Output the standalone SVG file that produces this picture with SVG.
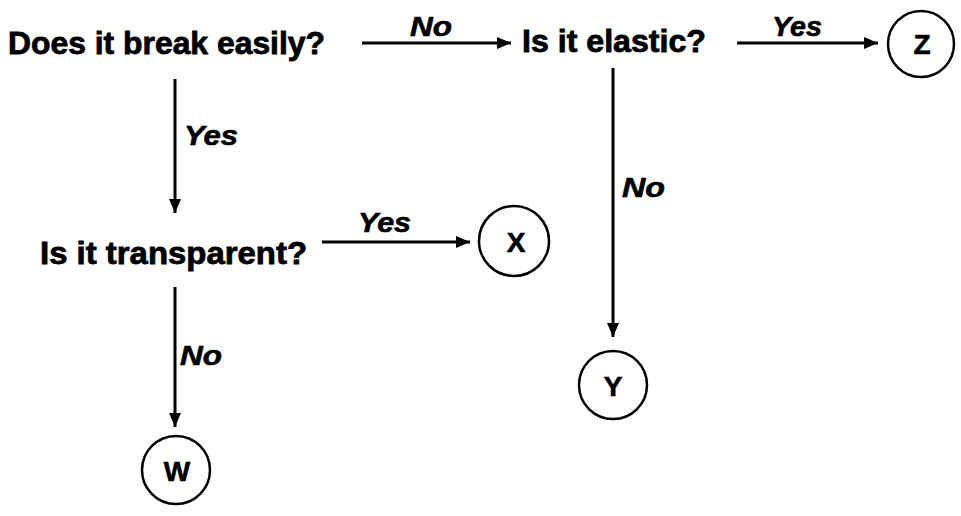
<svg xmlns="http://www.w3.org/2000/svg" width="961" height="516" viewBox="0 0 961 516">
<defs>
<style>
.q{font-family:"Liberation Sans",Arial,sans-serif;font-weight:bold;font-size:31px;fill:#000;stroke:#000;stroke-width:0.8}
.l{font-family:"Liberation Sans",Arial,sans-serif;font-weight:bold;font-style:italic;font-size:27px;fill:#000;stroke:#000;stroke-width:0.6}
.c{font-family:"Liberation Sans",Arial,sans-serif;font-weight:bold;font-size:28px;fill:#000;stroke:#000;stroke-width:0.6;text-anchor:middle}
.n{fill:none;stroke:#000;stroke-width:2.5}
.e{stroke:#000;stroke-width:3;fill:none;marker-end:url(#ah)}
</style>
<marker id="ah" viewBox="0 0 14 12" refX="14" refY="6" markerWidth="14" markerHeight="12" markerUnits="userSpaceOnUse" orient="auto">
<path d="M0,0 L14,6 L0,12 z" fill="#000"/>
</marker>
</defs>
<rect width="961" height="516" fill="#fff"/>
<g id="q1"><text class="q" x="8" y="54" textLength="317" lengthAdjust="spacingAndGlyphs">Does it break easily?</text></g>
<g id="q2"><text class="q" x="522" y="52" textLength="184" lengthAdjust="spacingAndGlyphs">Is it elastic?</text></g>
<g id="q3"><text class="q" x="40" y="264" textLength="267" lengthAdjust="spacingAndGlyphs">Is it transparent?</text></g>
<g id="z"><circle class="n" cx="921" cy="44" r="33"/><text class="c" x="922" y="54">Z</text></g>
<g id="x"><circle class="n" cx="514" cy="241" r="35"/><text class="c" x="516" y="252">X</text></g>
<g id="y"><circle class="n" cx="613" cy="385" r="34"/><text class="c" x="613" y="396">Y</text></g>
<g id="w"><circle class="n" cx="176" cy="470" r="34"/><text class="c" x="177" y="481">W</text></g>
<g id="connectors">
<line class="e" x1="362" y1="43" x2="511" y2="43"/>
<text class="l" x="410" y="36" textLength="42" lengthAdjust="spacingAndGlyphs">No</text>
<line class="e" x1="737" y1="43" x2="878" y2="43"/>
<text class="l" x="772" y="36" textLength="50" lengthAdjust="spacingAndGlyphs">Yes</text>
<line class="e" x1="175" y1="79" x2="175" y2="213"/>
<text class="l" x="184" y="145" textLength="54" lengthAdjust="spacingAndGlyphs">Yes</text>
<line class="e" x1="322" y1="242" x2="470" y2="242"/>
<text class="l" x="358" y="232" textLength="53" lengthAdjust="spacingAndGlyphs">Yes</text>
<line class="e" x1="175" y1="287" x2="175" y2="427"/>
<text class="l" x="180" y="365" textLength="42" lengthAdjust="spacingAndGlyphs">No</text>
<line class="e" x1="613" y1="68" x2="613" y2="337"/>
<text class="l" x="622" y="197" textLength="43" lengthAdjust="spacingAndGlyphs">No</text>
</g>
</svg>
